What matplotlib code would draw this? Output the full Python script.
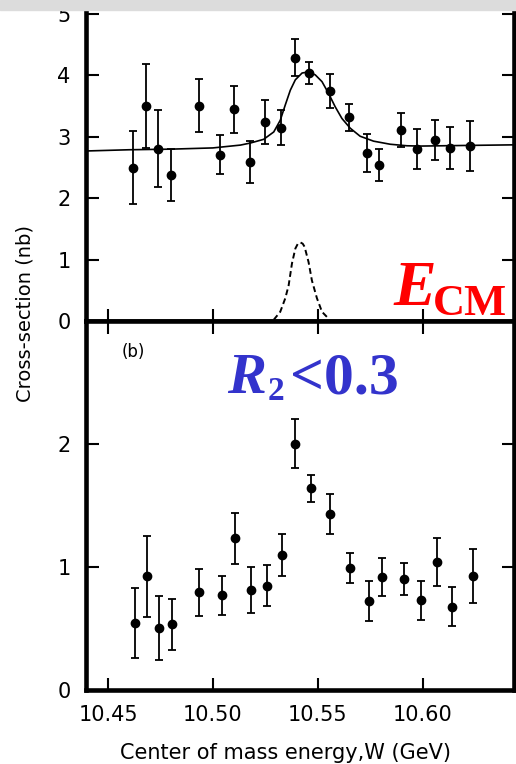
import numpy as np
import matplotlib.pyplot as plt
from matplotlib.patches import Rectangle

# panel (a): cross-section with fit
x_top = [10.4621, 10.4680, 10.4739, 10.4799, 10.4936, 10.5032, 10.5102, 10.5177, 10.5250, 10.5325, 10.5390,
         10.5460, 10.5556, 10.5648, 10.5736, 10.5791, 10.5898, 10.5973, 10.6057, 10.6129, 10.6225]
y_top = [2.50, 3.50, 2.81, 2.38, 3.51, 2.71, 3.45, 2.59, 3.24, 3.15, 4.29,
         4.04, 3.75, 3.32, 2.74, 2.54, 3.11, 2.80, 2.95, 2.82, 2.85]
e_top = [0.59, 0.68, 0.62, 0.43, 0.43, 0.32, 0.38, 0.34, 0.36, 0.29, 0.30,
         0.18, 0.28, 0.22, 0.31, 0.26, 0.28, 0.33, 0.33, 0.34, 0.41]

# fit curve
fit_x = [10.4395, 10.460, 10.480, 10.500, 10.5131, 10.5179, 10.5242, 10.5290, 10.5321, 10.5345, 10.5369,
         10.5393, 10.5425, 10.5456, 10.5488, 10.5520, 10.5551, 10.5583, 10.5615, 10.5655, 10.5702,
         10.5766, 10.5845, 10.5925, 10.5988, 10.620, 10.6433]
fit_y = [2.77, 2.79, 2.80, 2.82, 2.866, 2.90, 2.96, 3.08, 3.27, 3.52, 3.76,
         3.93, 4.04, 4.06, 4.01, 3.90, 3.71, 3.49, 3.30, 3.14, 3.01,
         2.93, 2.88, 2.855, 2.85, 2.86, 2.87]

# beam energy spread (dashed)
spread_x = [10.5290, 10.5321, 10.5345, 10.5361, 10.5377, 10.5393, 10.5405, 10.5417, 10.5428, 10.5437,
            10.5456, 10.5472, 10.5496, 10.5520, 10.5551]
spread_y = [0.02, 0.15, 0.37, 0.58, 0.94, 1.18, 1.26, 1.28, 1.26, 1.21,
            0.96, 0.66, 0.37, 0.15, 0.04]

# panel (b)
x_bot = [10.4627, 10.4686, 10.4743, 10.4807, 10.4933, 10.5044, 10.5105, 10.5180, 10.5259, 10.5331, 10.5391,
         10.5466, 10.5558, 10.5653, 10.5744, 10.5805, 10.5913, 10.5991, 10.6067, 10.6142, 10.6239]
y_bot = [0.544, 0.92, 0.50, 0.53, 0.79, 0.767, 1.23, 0.81, 0.846, 1.094, 2.00,
         1.64, 1.43, 0.99, 0.72, 0.917, 0.90, 0.727, 1.037, 0.675, 0.925]
e_bot = [0.285, 0.33, 0.26, 0.21, 0.19, 0.16, 0.21, 0.19, 0.17, 0.17, 0.20,
         0.11, 0.16, 0.12, 0.165, 0.157, 0.13, 0.16, 0.196, 0.16, 0.22]

x_ticks = [10.45, 10.50, 10.55, 10.60]
x_ticklabels = ['10.45', '10.50', '10.55', '10.60']

W, H = 516, 764
fig = plt.figure(figsize=(W / 100, H / 100), dpi=100)


def px(x, y):
    return x / W, 1 - y / H


left, right = 86, 513.5
ax1 = fig.add_axes([left / W, 1 - 321 / H, (right - left) / W, 321 / H])
ax2 = fig.add_axes([left / W, 1 - 689.5 / H, (right - left) / W, (689.5 - 321) / H])

ebkw = dict(fmt='o', color='black', ms=6, capsize=3, elinewidth=1.3, capthick=1.3)
ax1.errorbar(x_top, y_top, yerr=e_top, **ebkw)
ax1.plot(fit_x, fit_y, color='black', lw=1.2)
ax1.plot(spread_x, spread_y, color='black', lw=1.4, ls=(0, (3, 1.8)))
ax2.errorbar(x_bot, y_bot, yerr=e_bot, **ebkw)

for ax in (ax1, ax2):
    ax.set_xlim(10.4395, 10.6433)
    ax.set_xticks(x_ticks)
    for s in ax.spines.values():
        s.set_linewidth(3.3)
    ax.tick_params(direction='in', length=9, width=1.5, labelsize=15, pad=11,
                   left=True, right=True, bottom=True)

ax1.set_ylim(0, 5.23)
ax1.set_yticks([0, 1, 2, 3, 4, 5])
ax1.tick_params(top=False, labelbottom=False)
ax2.set_ylim(0, 3.0)
ax2.set_yticks([0, 1, 2])
ax2.tick_params(top=True)
ax2.set_xticklabels(x_ticklabels)

fig.text(*px(286, 753), 'Center of mass energy,W (GeV)', fontsize=15, ha='center', va='center')
fig.text(*px(25, 314), 'Cross-section (nb)', fontsize=14, rotation=90, ha='center', va='center')
fig.text(*px(133, 352), '(b)', fontsize=12, ha='center', va='center')

serif = 'Liberation Serif'
fig.text(*px(393, 305), 'E', color='red', fontsize=46, family=serif, weight='bold', style='italic',
         ha='left', va='baseline')
fig.text(*px(433, 315), 'CM', color='red', fontsize=32, family=serif, weight='bold',
         ha='left', va='baseline')
blue = '#3333cc'
fig.text(*px(227, 393), 'R', color=blue, fontsize=42, family=serif, weight='bold', style='italic',
         ha='left', va='baseline')
fig.text(*px(268, 400), '2', color=blue, fontsize=24, family=serif, weight='bold',
         ha='left', va='baseline')
fig.text(*px(290, 393), '<0.3', color=blue, fontsize=43, family=serif, weight='bold',
         ha='left', va='baseline')

fig.patches.append(Rectangle((0, 1 - 10 / H), 1, 10 / H, transform=fig.transFigure,
                             color='#dcdcdc', zorder=10))

fig.savefig('out.png', dpi=100)
